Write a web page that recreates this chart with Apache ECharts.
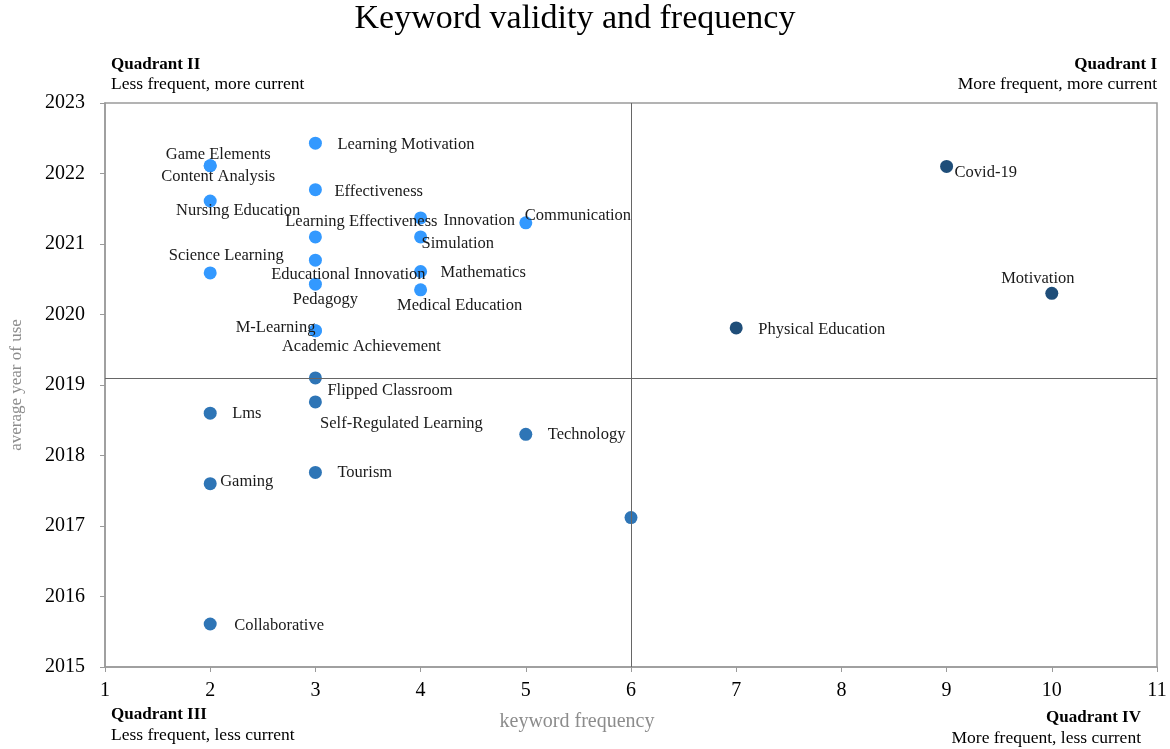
<!DOCTYPE html>
<html>
<head>
<meta charset="utf-8">
<title>Keyword validity and frequency</title>
<script src="https://cdn.jsdelivr.net/npm/echarts@6/dist/echarts.min.js"></script>
<style>
  html, body { margin: 0; padding: 0; background: #fff; }
  #chart { width: 1170px; height: 749px; }
</style>
</head>
<body>
<div id="chart"></div>
<script>
// 数据：关键词、频率、平均使用年份
var keywords = ['Learning Motivation', 'Game Elements', 'Content Analysis', 'Nursing Education',
  'Effectiveness', 'Learning Effectiveness', 'Innovation', 'Simulation', 'Communication',
  'Science Learning', 'Educational Innovation', 'Mathematics', 'Pedagogy', 'Medical Education',
  'M-Learning', 'Academic Achievement', 'Flipped Classroom', 'Self-Regulated Learning', 'Lms',
  'Technology', 'Tourism', 'Gaming', '', 'Collaborative', 'Covid-19', 'Motivation',
  'Physical Education'];
var frequency = [3, 2, 2, 2, 3, 3, 4, 4, 5, 2, 3, 4, 3, 4, 3, 3, 3, 3, 2, 5, 3, 2, 6, 2, 9, 10, 7];
var avgYear = [2022.43, 2022.11, 2022.11, 2021.61, 2021.77, 2021.10, 2021.37, 2021.10, 2021.30,
  2020.59, 2020.77, 2020.61, 2020.43, 2020.35, 2019.77, 2019.77, 2019.10, 2018.76, 2018.60,
  2018.30, 2017.76, 2017.60, 2017.12, 2015.61, 2022.10, 2020.30, 2019.81];
var xTicks = [1, 11, 1];      // min, max, interval
var yTicks = [2015, 2023, 1];
var splitFreq = 6;
var splitYear = 2019.1;

// 标签位置（对齐方式, dx, dy）
var labelPlace = {
  'Learning Motivation': ['left', 22, 1],
  'Game Elements': ['center', 8, -11],
  'Content Analysis': ['center', 8, 11],
  'Nursing Education': ['center', 28, 10],
  'Effectiveness': ['left', 19, 2],
  'Learning Effectiveness': ['center', 46, -15],
  'Innovation': ['left', 23, 3],
  'Simulation': ['left', 1, 7],
  'Communication': ['left', -1, -7],
  'Science Learning': ['center', 16, -17],
  'Educational Innovation': ['center', 33, 14],
  'Mathematics': ['left', 20, 1],
  'Pedagogy': ['center', 10, 15],
  'Medical Education': ['center', 39, 16],
  'M-Learning': ['right', 0, -3],
  'Academic Achievement': ['center', 46, 16],
  'Flipped Classroom': ['left', 12, 13],
  'Self-Regulated Learning': ['center', 86, 22],
  'Lms': ['left', 22, 0],
  'Technology': ['left', 22, 0],
  'Tourism': ['left', 22, 0],
  'Gaming': ['left', 10, -2],
  'Collaborative': ['left', 24, 2],
  'Covid-19': ['left', 8, 6],
  'Motivation': ['center', -14, -15],
  'Physical Education': ['left', 22, 2]
};

var serif = 'Liberation Serif, Times New Roman, serif';
var colors = { light: '#3399ff', mid: '#2e75b6', dark: '#1f4e79' };

var groups = { light: [], mid: [], dark: [] };
for (var i = 0; i < keywords.length; i++) {
  var g;
  if (frequency[i] > splitFreq) g = 'dark';
  else if (avgYear[i] > splitYear && frequency[i] < splitFreq) g = 'light';
  else g = 'mid';
  var p = labelPlace[keywords[i]] || ['left', 0, 0];
  groups[g].push({
    name: keywords[i],
    value: [frequency[i], avgYear[i]],
    label: {
      show: keywords[i] !== '',
      position: 'inside',
      align: p[0],
      verticalAlign: 'middle',
      offset: [p[1], p[2]]
    }
  });
}

function makeSeries(key) {
  return {
    type: 'scatter',
    symbolSize: 13,
    itemStyle: { color: colors[key], opacity: 1 },
    label: {
      formatter: '{b}',
      fontFamily: serif,
      fontSize: 16.5,
      color: '#1a1a1a'
    },
    emphasis: { disabled: true },
    data: groups[key]
  };
}

var series = [makeSeries('light'), makeSeries('mid'), makeSeries('dark')];
series[0].markLine = {
  silent: true,
  symbol: 'none',
  label: { show: false },
  lineStyle: { color: '#666', width: 1, type: 'solid' },
  data: [{ xAxis: splitFreq }, { yAxis: splitYear }]
};

function plainText(x, y, text, align, font, fill) {
  return {
    type: 'text', x: x, y: y,
    style: { text: text, fill: fill || '#000', align: align, verticalAlign: 'middle', font: font }
  };
}
var qBold = 'bold 17px ' + serif;
var qNorm = '17.5px ' + serif;

var option = {
  animation: false,
  backgroundColor: '#fff',
  grid: {
    left: 104, right: 13, top: 103, bottom: 82,
    show: true, borderColor: '#9a9a9a', borderWidth: 1.5, backgroundColor: 'transparent'
  },
  xAxis: {
    type: 'value',
    min: xTicks[0], max: xTicks[1], interval: xTicks[2],
    axisLine: { show: true, onZero: false, lineStyle: { color: '#9a9a9a', width: 1.5 } },
    axisTick: { show: true, length: 5, lineStyle: { color: '#9a9a9a' } },
    axisLabel: { color: '#000', fontFamily: serif, fontSize: 20, margin: 14 },
    splitLine: { show: false }
  },
  yAxis: {
    type: 'value',
    min: yTicks[0], max: yTicks[1], interval: yTicks[2],
    name: 'average year of use',
    nameLocation: 'middle',
    nameGap: 80,
    nameTextStyle: { color: '#8c8c8c', fontFamily: serif, fontSize: 17 },
    axisLine: { show: true, onZero: false, lineStyle: { color: '#9a9a9a', width: 1.5 } },
    axisTick: { show: true, length: 5, lineStyle: { color: '#9a9a9a' } },
    axisLabel: {
      color: '#000', fontFamily: serif, fontSize: 20, margin: 20,
      formatter: function (v) { return String(v); }
    },
    splitLine: { show: false }
  },
  graphic: [
    plainText(575, 19, 'Keyword validity and frequency', 'center', '34px ' + serif),
    plainText(111, 65, 'Quadrant II', 'left', qBold),
    plainText(111, 84, 'Less frequent, more current', 'left', qNorm),
    plainText(1157, 65, 'Quadrant I', 'right', qBold),
    plainText(1157, 84, 'More frequent, more current', 'right', qNorm),
    plainText(111, 715, 'Quadrant III', 'left', qBold),
    plainText(111, 735, 'Less frequent, less current', 'left', qNorm),
    plainText(1141, 718, 'Quadrant IV', 'right', qBold),
    plainText(1141, 738, 'More frequent, less current', 'right', qNorm),
    plainText(577, 722, 'keyword frequency', 'center', '20px ' + serif, '#8c8c8c')
  ],
  series: series
};

var myChart = echarts.init(document.getElementById('chart'));
myChart.setOption(option);
</script>
</body>
</html>
